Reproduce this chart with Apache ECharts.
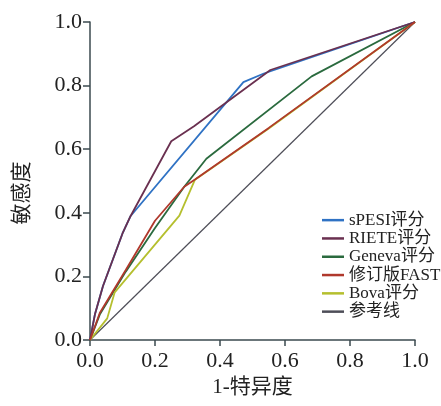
<!DOCTYPE html>
<html>
<head>
<meta charset="utf-8">
<script src="https://cdn.jsdelivr.net/npm/echarts@6/dist/echarts.min.js"></script>
<style>
html,body{margin:0;padding:0;background:#fff;}
#c{width:441px;height:406px;}
</style>
</head>
<body>
<div id="c"></div>
<script>
var seriesNames = ['sPESI评分', 'RIETE评分', 'Geneva评分', '修订版FAST', 'Bova评分', '参考线'];
var xTicks = [0, 0.2, 0.4, 0.6, 0.8, 1.0];
var yTicks = [0, 0.2, 0.4, 0.6, 0.8, 1.0];
var sPESI = [[0,0],[0.015,0.08],[0.04,0.17],[0.1,0.335],[0.125,0.39],[0.472,0.811],[0.535,0.838],[1,1]];
var RIETE = [[0,0],[0.015,0.08],[0.04,0.17],[0.1,0.335],[0.125,0.39],[0.25,0.625],[0.32,0.672],[0.555,0.849],[1,1]];
var Geneva = [[0,0],[0.03,0.08],[0.11,0.215],[0.2,0.352],[0.29,0.482],[0.358,0.57],[0.682,0.829],[1,1]];
var FAST = [[0,0],[0.03,0.085],[0.11,0.22],[0.2,0.375],[0.29,0.482],[0.323,0.505],[0.55,0.667],[1,1]];
var Bova = [[0,0],[0.053,0.068],[0.076,0.15],[0.275,0.391],[0.323,0.504],[0.55,0.665],[1,1]];
var refLine = [[0,0],[1,1]];
var colors = ['#2f72c4', '#6a3050', '#2a6a3e', '#b0382c', '#b5bf2e', '#4e4e58'];
var dataList = [sPESI, RIETE, Geneva, FAST, Bova, refLine];
var zList = [2, 3, 2, 3, 2, 1];
var widthList = [1.8, 1.8, 1.8, 1.8, 1.8, 1.2];

var serifFont = '"Liberation Serif", "Noto Sans CJK SC", serif';
var axisColor = '#3b4a4f';

var chart = echarts.init(document.getElementById('c'), null, {renderer: 'canvas'});
var option = {
  animation: false,
  backgroundColor: '#fff',
  grid: {left: 90, right: 26, top: 22, bottom: 66, outerBoundsMode: 'none'},
  legend: {
    orient: 'vertical',
    left: 317,
    top: 206,
    icon: 'rect',
    itemWidth: 22,
    itemHeight: 2.5,
    itemGap: 0,
    data: seriesNames,
    textStyle: {fontFamily: serifFont, fontSize: 17, color: '#222', lineHeight: 18.3}
  },
  xAxis: {
    type: 'value', min: 0, max: 1, interval: 0.2,
    name: '1-特异度', nameLocation: 'middle', nameGap: 28,
    nameTextStyle: {fontFamily: serifFont, fontSize: 21, color: '#222'},
    axisLine: {show: true, lineStyle: {color: axisColor, width: 1.5}},
    axisTick: {show: true, inside: false, length: 6, lineStyle: {color: axisColor, width: 1.5}},
    axisLabel: {margin: 10, fontFamily: serifFont, fontSize: 22, color: '#222',
      formatter: function (v) { return v.toFixed(1); }},
    splitLine: {show: false}
  },
  yAxis: {
    type: 'value', min: 0, max: 1, interval: 0.2,
    name: '敏感度', nameLocation: 'middle', nameGap: 57, nameRotate: 90,
    nameTextStyle: {fontFamily: serifFont, fontSize: 21, color: '#222', padding: [0, 24, 0, 0]},
    axisLine: {show: true, lineStyle: {color: axisColor, width: 1.5}},
    axisTick: {show: true, inside: false, length: 7, lineStyle: {color: axisColor, width: 1.5}},
    axisLabel: {margin: 8, fontFamily: serifFont, fontSize: 22, color: '#222',
      formatter: function (v) { return v.toFixed(1); }},
    splitLine: {show: false}
  },
  series: seriesNames.map(function (n, i) {
    return {
      name: n, type: 'line', data: dataList[i], showSymbol: false, symbol: 'none',
      z: zList[i],
      lineStyle: {color: colors[i], width: widthList[i]},
      itemStyle: {color: colors[i]}
    };
  })
};
chart.setOption(option);
</script>
</body>
</html>
